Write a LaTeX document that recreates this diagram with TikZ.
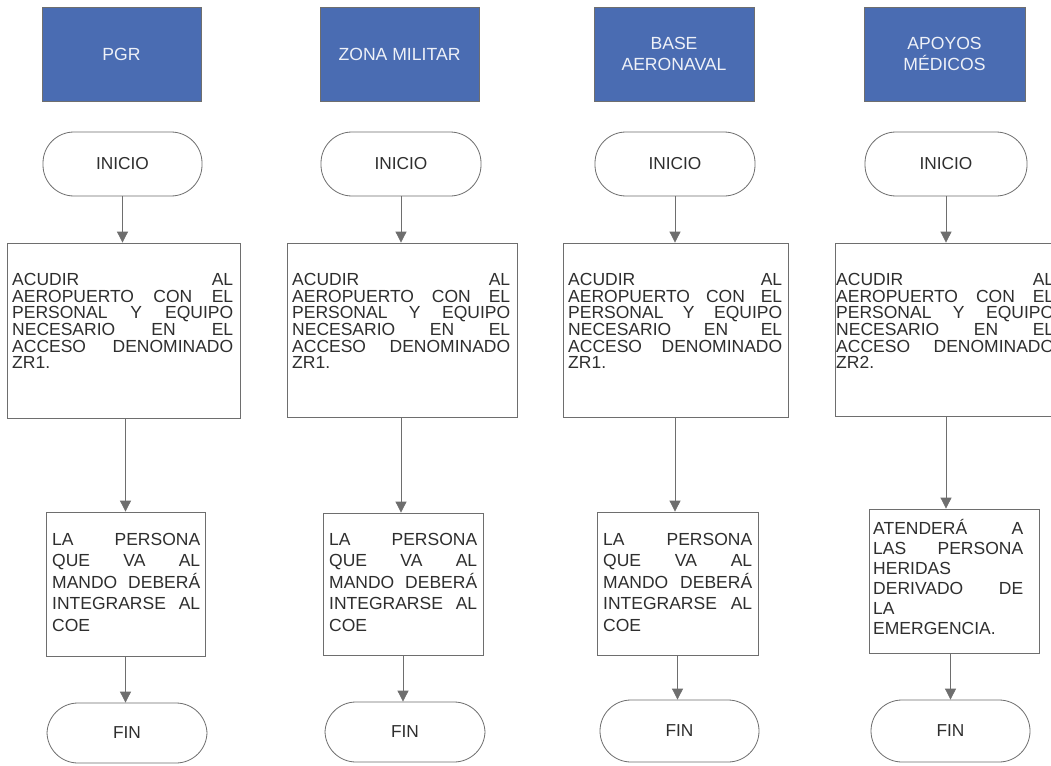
\documentclass[tikz,border=0pt]{standalone}
\usepackage{fontspec}
\setmainfont{Liberation Sans}
\usetikzlibrary{arrows.meta}
\setlength\parindent{0pt}
\setlength\lineskiplimit{-30pt}
\definecolor{hblue}{HTML}{4A6CB2}
\definecolor{lgray}{HTML}{6E6E6E}
\definecolor{tgray}{HTML}{2E2E2E}
\definecolor{htext}{HTML}{EEF1F8}
\newcommand\jw{100pt}
\newcommand\jl[1]{\makebox[\jw][l]{#1}}
\begin{document}
\begin{tikzpicture}[x=1pt,y=-1pt,
 hdr/.style={draw=lgray, line width=0.8pt, fill=hblue, text=htext, align=center, inner sep=0pt, font=\fontsize{17.6pt}{21pt}\selectfont},
 term/.style={draw=lgray, line width=0.8pt, rounded corners=31pt, fill=white, text=tgray, inner sep=0pt, font=\fontsize{17.3pt}{20pt}\selectfont},
 pbox/.style={draw=lgray, line width=0.8pt, inner sep=0pt},
 tw/.style={text width=#1pt, execute at begin node={\renewcommand\jw{#1pt}}},
 txta/.style={anchor=north west, inner sep=0pt, text=tgray, align=left, font=\fontsize{17.5pt}{16.7pt}\selectfont},
 txtb/.style={anchor=north west, inner sep=0pt, text=tgray, align=left, font=\fontsize{17.5pt}{21.5pt}\selectfont},
 txtc/.style={anchor=north west, inner sep=0pt, text=tgray, align=left, font=\fontsize{17.5pt}{20pt}\selectfont},
 arr/.style={draw=lgray, line width=0.8pt, -{Triangle[width=11pt,length=11pt]}}
]
\useasboundingbox (0,0) rectangle (1051,765);
\clip (0,0) rectangle (1051,765);
\fill[white] (0,0) rectangle (1051,765);

% ---------- column 1 ----------
\node[hdr, minimum width=159pt, minimum height=94pt] (h1) at (121.5,54) {PGR};
\node[term, minimum width=159pt, minimum height=64pt] (i1) at (122.5,164) {INICIO};
\node[pbox, minimum width=233pt, minimum height=175pt] (b1) at (123.5,330.5) {};
\node[txta, tw=221] (t1) at (12,273) {\jl{ACUDIR\hfill AL}\\ \jl{AEROPUERTO\hfill CON\hfill EL}\\ \jl{PERSONAL\hfill Y\hfill EQUIPO}\\ \jl{NECESARIO\hfill EN\hfill EL}\\ \jl{ACCESO\hfill DENOMINADO}\\ ZR1.};
\node[pbox, minimum width=159pt, minimum height=144pt] (c1) at (125.5,584) {};
\node[txtb, tw=148] (u1) at (52,533) {\jl{LA\hfill PERSONA}\\ \jl{QUE\hfill VA\hfill AL}\\ \jl{MANDO\hfill DEBERÁ}\\ \jl{INTEGRARSE\hfill AL}\\ COE};
\node[term, minimum width=160pt, minimum height=60pt] (f1) at (127,733) {FIN};
\draw[arr] (i1) -- (i1 |- b1.north);
\draw[arr] (c1.north |- b1.south) -- (c1.north);
\draw[arr] (c1) -- (c1 |- f1.north);

% ---------- column 2 ----------
\node[hdr, minimum width=159pt, minimum height=94pt] (h2) at (399.5,54) {ZONA MILITAR};
\node[term, minimum width=160pt, minimum height=64pt] (i2) at (401,164) {INICIO};
\node[pbox, minimum width=230pt, minimum height=174pt] (b2) at (402,330) {};
\node[txta, tw=218] (t2) at (292,273) {\jl{ACUDIR\hfill AL}\\ \jl{AEROPUERTO\hfill CON\hfill EL}\\ \jl{PERSONAL\hfill Y\hfill EQUIPO}\\ \jl{NECESARIO\hfill EN\hfill EL}\\ \jl{ACCESO\hfill DENOMINADO}\\ ZR1.};
\node[pbox, minimum width=160pt, minimum height=142pt] (c2) at (403,584) {};
\node[txtb, tw=148] (u2) at (329,533) {\jl{LA\hfill PERSONA}\\ \jl{QUE\hfill VA\hfill AL}\\ \jl{MANDO\hfill DEBERÁ}\\ \jl{INTEGRARSE\hfill AL}\\ COE};
\node[term, minimum width=160pt, minimum height=60pt] (f2) at (405,732) {FIN};
\draw[arr] (i2) -- (i2 |- b2.north);
\draw[arr] (i2 |- b2.south) -- (i2 |- c2.north);
\draw[arr] (c2) -- (c2 |- f2.north);

% ---------- column 3 ----------
\node[hdr, minimum width=160pt, minimum height=94pt] (h3) at (674,54) {BASE\\AERONAVAL};
\node[term, minimum width=160pt, minimum height=64pt] (i3) at (675,164) {INICIO};
\node[pbox, minimum width=225pt, minimum height=174pt] (b3) at (675.5,330) {};
\node[txta, tw=214] (t3) at (568,273) {\jl{ACUDIR\hfill AL}\\ \jl{AEROPUERTO\hfill CON\hfill EL}\\ \jl{PERSONAL\hfill Y\hfill EQUIPO}\\ \jl{NECESARIO\hfill EN\hfill EL}\\ \jl{ACCESO\hfill DENOMINADO}\\ ZR1.};
\node[pbox, minimum width=161pt, minimum height=143pt] (c3) at (677.5,583.5) {};
\node[txtb, tw=149] (u3) at (603,533) {\jl{LA\hfill PERSONA}\\ \jl{QUE\hfill VA\hfill AL}\\ \jl{MANDO\hfill DEBERÁ}\\ \jl{INTEGRARSE\hfill AL}\\ COE};
\node[term, minimum width=159pt, minimum height=62pt] (f3) at (679.5,731) {FIN};
\draw[arr] (i3) -- (i3 |- b3.north);
\draw[arr] (i3 |- b3.south) -- (i3 |- c3.north);
\draw[arr] (c3) -- (c3 |- f3.north);

% ---------- column 4 ----------
\node[hdr, minimum width=161pt, minimum height=94pt] (h4) at (944.5,54) {APOYOS\\MÉDICOS};
\node[term, minimum width=162pt, minimum height=64pt] (i4) at (946,164) {INICIO};
\node[pbox, minimum width=233pt, minimum height=173pt] (b4) at (951.5,329.5) {};
\node[txta, tw=218] (t4) at (836,273) {\jl{ACUDIR\hfill AL}\\ \jl{AEROPUERTO\hfill CON\hfill EL}\\ \jl{PERSONAL\hfill Y\hfill EQUIPO}\\ \jl{NECESARIO\hfill EN\hfill EL}\\ \jl{ACCESO\hfill DENOMINADO}\\ ZR2.};
\node[pbox, minimum width=170pt, minimum height=144pt] (c4) at (954,581) {};
\node[txtc, tw=150] (u4) at (873,519.5) {\jl{ATENDERÁ\hfill A}\\ \jl{LAS\hfill PERSONA}\\ HERIDAS\\ \jl{DERIVADO\hfill DE}\\ LA\\ EMERGENCIA.};
\node[term, minimum width=159pt, minimum height=62pt] (f4) at (950.5,731) {FIN};
\draw[arr] (i4) -- (i4 |- b4.north);
\draw[arr] (i4 |- b4.south) -- (i4 |- c4.north);
\draw[arr] (f4 |- c4.south) -- (f4.north);
\end{tikzpicture}
\end{document}
